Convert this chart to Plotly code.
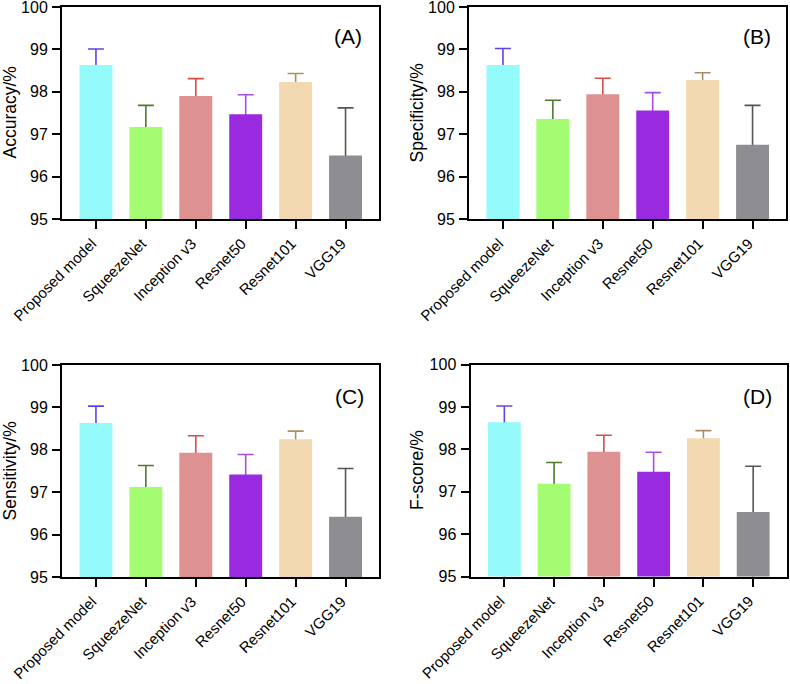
import plotly.graph_objects as go

models = ["Proposed model", "SqueezeNet", "Inception v3", "Resnet50", "Resnet101", "VGG19"]

accuracy = [98.63, 97.17, 97.90, 97.47, 98.23, 96.50]
accuracy_err = [0.38, 0.51, 0.41, 0.46, 0.20, 1.12]

specificity = [98.63, 97.36, 97.94, 97.56, 98.28, 96.75]
specificity_err = [0.39, 0.44, 0.38, 0.42, 0.17, 0.93]

sensitivity = [98.63, 97.12, 97.93, 97.42, 98.25, 96.42]
sensitivity_err = [0.40, 0.51, 0.40, 0.47, 0.19, 1.14]

fscore = [98.64, 97.19, 97.94, 97.47, 98.26, 96.52]
fscore_err = [0.38, 0.50, 0.39, 0.46, 0.18, 1.08]

bar_colors = ["#94FAFA", "#A4FC72", "#DE9191", "#9A2ADF", "#F2D9B1", "#8E8D92"]
err_colors = ["#5B45E8", "#4E7A2E", "#D94A4A", "#A84EE8", "#A89064", "#555555"]

panels = [
    ("Accuracy/%", accuracy, accuracy_err, "(A)"),
    ("Specificity/%", specificity, specificity_err, "(B)"),
    ("Sensitivity/%", sensitivity, sensitivity_err, "(C)"),
    ("F-score/%", fscore, fscore_err, "(D)"),
]

W, H = 790, 684
# pixel boxes (left, right, top, bottom)
boxes = [
    (62, 379, 7, 219),
    (469, 786, 7, 219),
    (62, 379, 365, 577),
    (470.5, 786.5, 364.5, 576.5),
]
title_x = [9.5, 416.5, 9.5, 416.5]
label_pos = [(348, 37), (757, 37), (349, 396), (757, 396)]

FONT = "Liberation Sans, Arial, sans-serif"
AXMIN = 95
fig = go.Figure()

for i, ((title, vals, errs, lab), (l, r, t, b)) in enumerate(zip(panels, boxes)):
    n = i + 1
    xa = "x" if n == 1 else f"x{n}"
    ya = "y" if n == 1 else f"y{n}"
    for j, m in enumerate(models):
        # transparent carrier bar holding the error bar (lower half hidden below axis / behind bar)
        fig.add_trace(go.Bar(
            x=[j], y=[vals[j]],
            marker=dict(color="rgba(0,0,0,0)", line=dict(width=0)),
            width=0.66,
            error_y=dict(type="data", array=[errs[j]], arrayminus=[vals[j] - AXMIN + 1],
                         symmetric=False, color=err_colors[j], thickness=1.6, width=8),
            xaxis=xa, yaxis=ya, showlegend=False, name=m, hoverinfo="skip",
        ))
        fig.add_trace(go.Bar(
            x=[j], y=[vals[j]],
            marker=dict(color=bar_colors[j], line=dict(width=0)),
            width=0.66,
            xaxis=xa, yaxis=ya, showlegend=False, name=m,
        ))
    xdom = [l / W, r / W]
    ydom = [1 - b / H, 1 - t / H]
    axis_common = dict(showline=True, linecolor="black", linewidth=2, mirror=True,
                       ticks="outside", ticklen=8, tickwidth=2, tickcolor="black",
                       showgrid=False, zeroline=False, automargin=False,
                       ticklabeloverflow="allow")
    fig.update_layout(**{
        ("xaxis" if n == 1 else f"xaxis{n}"): dict(
            domain=xdom, anchor=ya, range=[-0.68, 5.67],
            tickmode="array", tickvals=list(range(6)), ticktext=models,
            tickangle=-45, tickfont=dict(family=FONT, size=15, color="black"),
            ticklabelshift=-4,
            **axis_common),
        ("yaxis" if n == 1 else f"yaxis{n}"): dict(
            domain=ydom, anchor=xa, range=[95, 100], tickvals=[95, 96, 97, 98, 99, 100],
            tickfont=dict(family=FONT, size=16, color="black"),
            ticklabelstandoff=1,
            **axis_common),
    })
    fig.add_annotation(text=title, xref="paper", yref="paper",
                       x=title_x[i] / W, y=1 - (t + b) / 2 / H, textangle=-90,
                       xanchor="center", yanchor="middle", showarrow=False,
                       font=dict(family=FONT, size=17.5, color="black"))
    lx, ly = label_pos[i]
    fig.add_annotation(text=lab, xref="paper", yref="paper",
                       x=lx / W, y=1 - ly / H,
                       xanchor="center", yanchor="middle", showarrow=False,
                       font=dict(family=FONT, size=21, color="black"))

fig.update_layout(width=W, height=H, margin=dict(l=0, r=0, t=0, b=0),
                  plot_bgcolor="white", paper_bgcolor="white", barmode="overlay",
                  font=dict(family=FONT))
fig.write_html("out.html", config={"displayModeBar": False},
               post_script="document.body.style.margin='0px';")
